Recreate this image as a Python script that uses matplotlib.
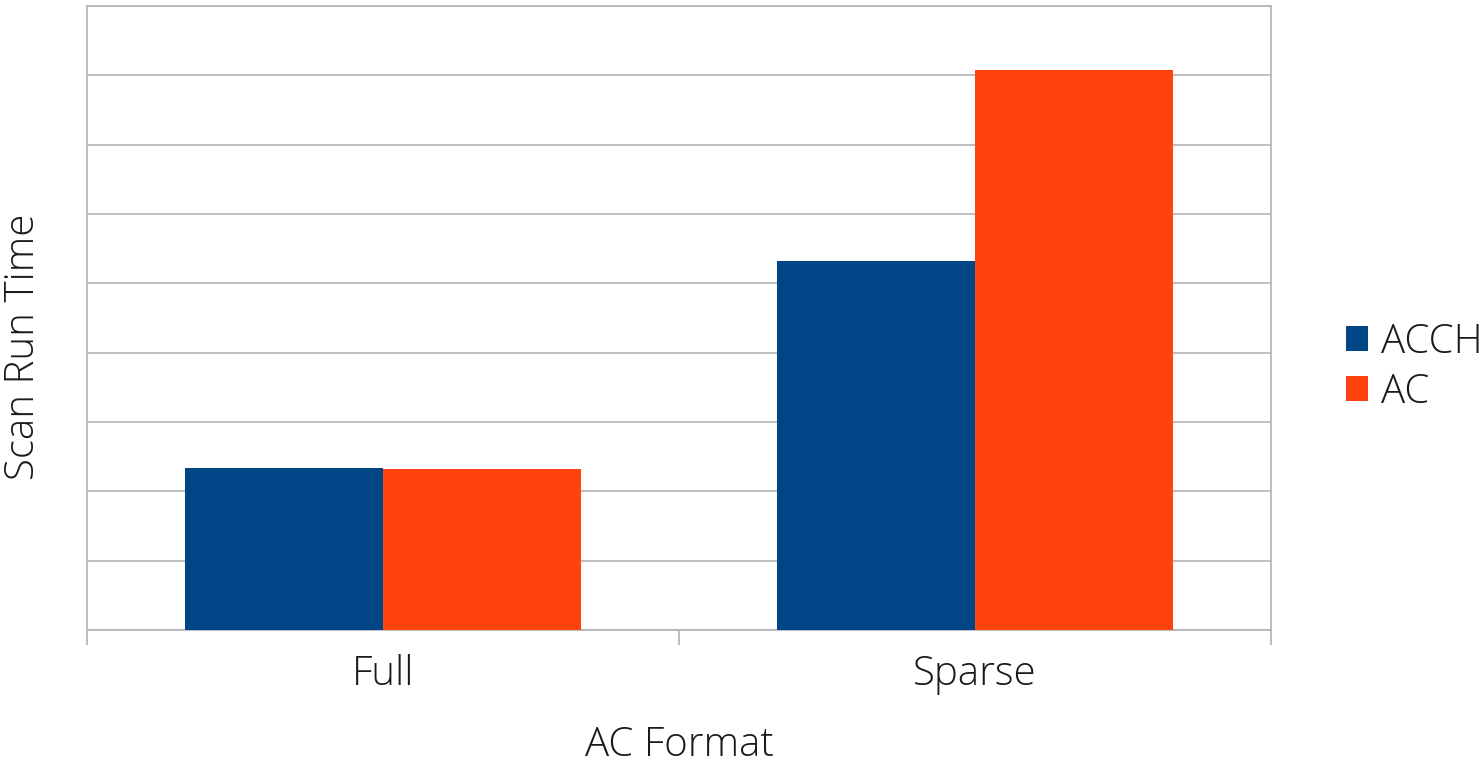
import matplotlib.pyplot as plt
import numpy as np

# Scan run time per AC format (relative units, axis unlabeled)
formats = ["Full", "Sparse"]
acch_time = [2.34, 5.32]
ac_time = [2.32, 8.08]
series_names = ["ACCH", "AC"]

plt.rcParams["font.family"] = ["Open Sans", "DejaVu Sans"]

BLUE = "#004586"
ORANGE = "#ff420e"
GRID = "#b3b3b3"
TEXT = "#1a1a1a"
FS = 29

W, H = 1481, 763
fig = plt.figure(figsize=(W / 100, H / 100), dpi=100)
ax = fig.add_axes([87 / W, 133 / H, 1184 / W, 624 / H])

x = np.arange(len(formats))
w = 0.334
ax.bar(x - w / 2, acch_time, width=w, color=BLUE, label=series_names[0], zorder=3)
ax.bar(x + w / 2, ac_time, width=w, color=ORANGE, label=series_names[1], zorder=3)

ax.set_xlim(-0.5, len(formats) - 0.5)
ax.set_ylim(0, 9)
ax.set_yticks(np.arange(0, 10))
ax.yaxis.set_tick_params(length=0, labelleft=False)
ax.grid(True, axis="y", color=GRID, linewidth=1.2, zorder=0)

# category boundaries get the tick marks, names sit at the group centres
ax.set_xticks([-0.5, 0.5, 1.5])
ax.set_xticklabels([])
ax.tick_params(axis="x", which="major", direction="out", length=11, color=GRID, width=1.2)
ax.set_xticks(x, minor=True)
ax.set_xticklabels(formats, minor=True, fontsize=FS, fontweight="light", color=TEXT)
ax.tick_params(axis="x", which="minor", length=0, pad=17)

for s in ax.spines.values():
    s.set_color(GRID)
    s.set_linewidth(1.2)

fig.text(679 / W, 1 - 745 / H, "AC Format", fontsize=FS, fontweight="light",
         color=TEXT, ha="center", va="center")
fig.text(24 / W, 1 - 347 / H, "Scan Run Time", fontsize=FS, fontweight="light",
         color=TEXT, ha="center", va="center", rotation=90)

leg = ax.legend(
    loc="center left",
    bbox_to_anchor=(1.05, 0.421),
    frameon=False,
    fontsize=FS,
    handlelength=0.55,
    handleheight=0.55,
    handletextpad=0.3,
    labelspacing=0.22,
    borderaxespad=0,
)
for t in leg.get_texts():
    t.set_fontweight("light")
    t.set_color(TEXT)

fig.savefig("out.png", dpi=100)
